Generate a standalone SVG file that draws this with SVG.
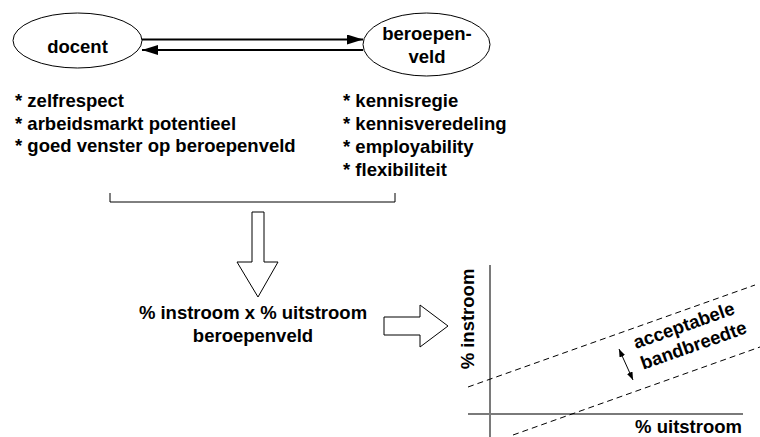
<svg xmlns="http://www.w3.org/2000/svg" width="760" height="437" viewBox="0 0 760 437">
  <style>
    .lbl { font-family: "Liberation Sans", Arial, Helvetica, sans-serif; font-weight: bold; font-size: 18.5px; fill: #000; }
    .mid { text-anchor: middle; }
    .outline { fill: #fff; stroke: #000; stroke-width: 1; }
    .link { fill: none; stroke: #000; stroke-width: 2; }
    .axis { fill: none; stroke: #7a7a7a; stroke-width: 2; }
    .band { fill: none; stroke: #000; stroke-width: 1; stroke-dasharray: 6 4; }
  </style>
  <defs>
    <marker id="head" markerUnits="userSpaceOnUse" markerWidth="16" markerHeight="10" refX="16" refY="5" orient="auto">
      <path d="M0,0 L16,5 L0,10 Z" fill="#000"/>
    </marker>
    <marker id="tiny" markerUnits="userSpaceOnUse" markerWidth="8" markerHeight="6" refX="8" refY="3" orient="auto-start-reverse">
      <path d="M0,0 L8,3 L0,6 Z" fill="#000"/>
    </marker>
  </defs>

  <rect width="760" height="437" fill="#fff"/>

  <!-- two parties -->
  <g id="docent">
    <ellipse class="outline" cx="77.5" cy="40.5" rx="64.5" ry="27.5"/>
    <text class="lbl mid" x="77.5" y="53">docent</text>
  </g>
  <g id="beroepenveld">
    <ellipse class="outline" cx="426.5" cy="44.5" rx="63.5" ry="31.5"/>
    <text class="lbl mid" x="427" y="40">beroepen-</text>
    <text class="lbl mid" x="427" y="63">veld</text>
  </g>

  <!-- exchange between docent and beroepenveld -->
  <g id="connectors">
    <line class="link" x1="142" y1="39.5" x2="363" y2="39.5" marker-end="url(#head)"/>
    <line class="link" x1="363" y1="50" x2="142" y2="50" marker-end="url(#head)"/>
  </g>

  <!-- benefits per party -->
  <g id="docent-list">
    <text class="lbl" x="15" y="107">* zelfrespect</text>
    <text class="lbl" x="15" y="129.5">* arbeidsmarkt potentieel</text>
    <text class="lbl" x="15" y="152">* goed venster op beroepenveld</text>
  </g>
  <g id="veld-list">
    <text class="lbl" x="343" y="107">* kennisregie</text>
    <text class="lbl" x="343" y="130">* kennisveredeling</text>
    <text class="lbl" x="343" y="153">* employability</text>
    <text class="lbl" x="343" y="176">* flexibiliteit</text>
  </g>

  <!-- bracket joining both lists -->
  <g id="bracket">
    <path d="M110,193 V202 H395 V193" fill="none" stroke="#000" stroke-width="1"/>
  </g>

  <g id="down-arrow">
    <polygon class="outline" points="252,212 264,212 264,262 278,262 258,297 237,262 252,262"/>
  </g>

  <g id="formula">
    <text class="lbl mid" x="253" y="319">% instroom x % uitstroom</text>
    <text class="lbl mid" x="253" y="342">beroepenveld</text>
  </g>

  <g id="right-arrow">
    <polygon class="outline" points="384,317 420,317 420,305 448,326 420,347 420,335 384,335"/>
  </g>

  <!-- instroom / uitstroom chart -->
  <g id="chart">
    <line class="axis" x1="490" y1="265" x2="490" y2="437"/>
    <line class="axis" x1="468" y1="414" x2="743" y2="414"/>
    <line class="band" x1="468" y1="387" x2="755" y2="285"/>
    <line class="band" x1="513" y1="435" x2="760" y2="347"/>
    <line x1="619" y1="349" x2="633" y2="380" stroke="#000" stroke-width="1" marker-start="url(#tiny)" marker-end="url(#tiny)"/>
    <text class="lbl mid" transform="translate(474,319) rotate(-90)">% instroom</text>
    <text class="lbl" x="742" y="433" text-anchor="end">% uitstroom</text>
    <g transform="translate(636,349) rotate(-19.5)">
      <text class="lbl" x="0" y="0">acceptabele</text>
      <text class="lbl" x="0" y="22">bandbreedte</text>
    </g>
  </g>
</svg>
